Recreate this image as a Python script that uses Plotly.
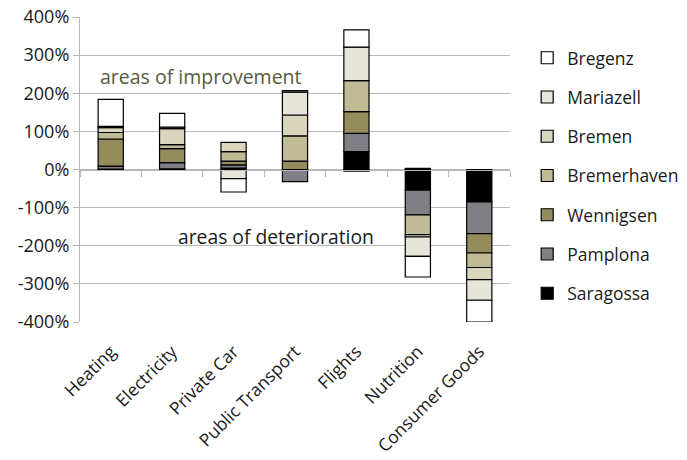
import plotly.graph_objects as go

categories = ["Heating", "Electricity", "Private Car", "Public Transport",
              "Flights", "Nutrition", "Consumer Goods"]

# Change per category and city (percent), bottom of the stack first
saragossa = [1, 2, 4, 0, 47, -54, -85]
pamplona = [8, 16, 8, -32, 48, -65, -83]
wennigsen = [71, 37, 10, 22, 57, 3, -51]
bremerhaven = [17, 10, 25, 66, 81, -52, -38]
bremen = [13, 42, 24, 55, -4, -6, -32]
mariazell = [3, 4, -24, 60, 88, -51, -54]
bregenz = [71, 36, -35, 4, 45, -54, -57]

series = [
    ("Saragossa", saragossa, "#000000"),
    ("Pamplona", pamplona, "#7f7f85"),
    ("Wennigsen", wennigsen, "#948c5c"),
    ("Bremerhaven", bremerhaven, "#bebb95"),
    ("Bremen", bremen, "#d9d6bd"),
    ("Mariazell", mariazell, "#e7e5da"),
    ("Bregenz", bregenz, "#ffffff"),
]

y_ticks = list(range(-400, 401, 100))
y_tick_text = [f"{v}%" for v in y_ticks]

FONT = "Open Sans"
GRID = "#b8b8b8"
TEXT = "#1a1a1a"

fig = go.Figure()
for i, (name, values, color) in enumerate(series):
    fig.add_trace(go.Bar(
        name=name, x=categories, y=values,
        marker=dict(color=color, line=dict(color="#000000", width=1.2)),
        legendgroup=name, legendrank=len(series) - i,
    ))

# Horizontal category axis line drawn through 0% with tick marks between categories
fig.add_trace(go.Scatter(x=[], y=[], xaxis="x2", showlegend=False, hoverinfo="skip"))

fig.update_layout(
    width=687, height=460,
    margin=dict(l=80, r=177, t=17, b=138, autoexpand=False),
    paper_bgcolor="white", plot_bgcolor="white",
    barmode="relative", bargap=0.59,
    font=dict(family=FONT, size=17, color=TEXT),
    showlegend=True,
    legend=dict(
        x=1.04, xanchor="left", y=0.925, yanchor="top",
        traceorder="grouped", tracegroupgap=13.5,
        font=dict(family=FONT, size=17.5, color=TEXT),
        bgcolor="rgba(0,0,0,0)",
    ),
    xaxis=dict(
        type="category", range=[-0.5, 6.5], automargin=False,
        showgrid=False, showline=False, ticks="",
        tickangle=-45, ticklabelstandoff=15,
        tickfont=dict(family=FONT, size=17.5, color=TEXT),
    ),
    xaxis2=dict(
        overlaying="x", anchor="free", position=0.5,
        range=[-0.5, 6.5], showgrid=False, zeroline=False,
        showline=True, linecolor=GRID, linewidth=1.2,
        ticks="outside", ticklen=6, tickcolor=GRID, tickwidth=1.2,
        tickvals=[i - 0.5 for i in range(len(categories) + 1)],
        showticklabels=False,
    ),
    yaxis=dict(
        range=[-400, 400], tickvals=y_ticks, ticktext=y_tick_text,
        automargin=False,
        showgrid=True, gridcolor=GRID, gridwidth=1.2, zeroline=False,
        showline=True, linecolor=GRID, linewidth=1.2,
        ticks="outside", ticklen=6, tickcolor=GRID,
        tickfont=dict(family=FONT, size=18, color=TEXT),
    ),
    annotations=[
        dict(x=1.47, y=243, xref="x", yref="y", text="areas of improvement",
             showarrow=False, font=dict(family=FONT, size=19.5, color="#585a3e")),
        dict(x=2.69, y=-177, xref="x", yref="y", text="areas of deterioration",
             showarrow=False, font=dict(family=FONT, size=19.3, color=TEXT)),
    ],
)

fig.write_html("out.html")
